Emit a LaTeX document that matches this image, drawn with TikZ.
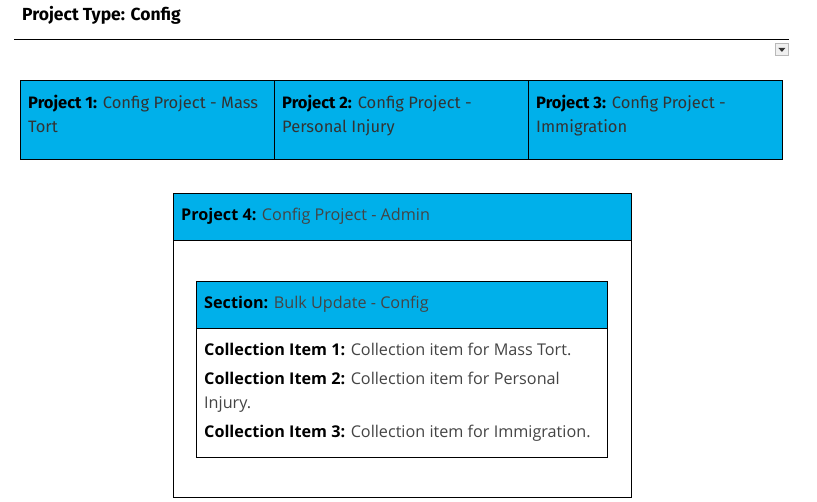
\documentclass[tikz,border=0pt]{standalone}
\usepackage{fontspec}
\newfontfamily\narrowfont{Fira Sans}
\newfontfamily\widefont{Open Sans}
\definecolor{cellblue}{HTML}{00B0EA}
\definecolor{txtgray}{HTML}{333333}
\definecolor{lightgray}{HTML}{444444}
\tikzset{
  cell/.style={draw=black, line width=1pt, fill=cellblue, anchor=north west, inner sep=0pt},
  plainbox/.style={draw=black, line width=1pt, fill=white, anchor=north west, inner sep=0pt},
  toptext/.style={anchor=base west, inner sep=0pt, text=txtgray, font=\narrowfont\fontsize{16.5}{24}\selectfont, align=left},
  subtext/.style={anchor=base west, inner sep=0pt, text=lightgray, font=\widefont\fontsize{16.2}{24}\selectfont, align=left},
}
\begin{document}
\begin{tikzpicture}[x=1pt,y=-1pt]
\useasboundingbox (0,0) rectangle (817,502);
% title
\node[anchor=base west, inner sep=0pt, font=\narrowfont\fontsize{17.5}{18}\selectfont\bfseries] (title) at (22,21) {Project Type: Config};
\coordinate (ruleL) at (14,40);
\coordinate (ruleR) at (789,40);
\draw[line width=1pt] (ruleL) -- (ruleR);
% dropdown
\node[draw=gray!55, fill=gray!12, line width=0.8pt, anchor=north west, minimum width=13, minimum height=12, inner sep=0pt] (dd) at (775,43) {};
\fill[gray!40!black] ([xshift=-3.5,yshift=1.5]dd.center) -- ([xshift=3.5,yshift=1.5]dd.center) -- ([yshift=-2.5]dd.center) -- cycle;
% top row
\node[cell, minimum width=254, minimum height=79] (p1) at (20,80) {};
\node[cell, minimum width=254, minimum height=79] (p2) at (274,80) {};
\node[cell, minimum width=254, minimum height=79] (p3) at (528,80) {};
\node[toptext] (t1) at (28,133) {\textbf{\color{black}Project 1:} Config Project - Mass\\Tort};
\node[toptext] (t2) at (282,133) {\textbf{\color{black}Project 2:} Config Project -\\Personal Injury};
\node[toptext] (t3) at (536,133) {\textbf{\color{black}Project 3:} Config Project -\\Immigration};
% project 4
\node[plainbox, minimum width=458, minimum height=304] (p4) at (173,193) {};
\node[cell, minimum width=458, minimum height=47] (p4h) at (173,193) {};
\node[subtext] (t4) at (181,221) {\textbf{\color{black}Project 4:} Config Project - Admin};
% section
\node[plainbox, minimum width=411, minimum height=176] (sec) at (196,281) {};
\node[cell, minimum width=411, minimum height=47] (sech) at (196,281) {};
\node[subtext] (ts) at (204,309) {\textbf{\color{black}Section:} Bulk Update - Config};
\node[subtext] (c1) at (204,356) {\textbf{\color{black}Collection Item 1:} Collection item for Mass Tort.};
\node[subtext] (c2) at (204,409) {\textbf{\color{black}Collection Item 2:} Collection item for Personal\\Injury.};
\node[subtext] (c3) at (204,438) {\textbf{\color{black}Collection Item 3:} Collection item for Immigration.};
\end{tikzpicture}
\end{document}
